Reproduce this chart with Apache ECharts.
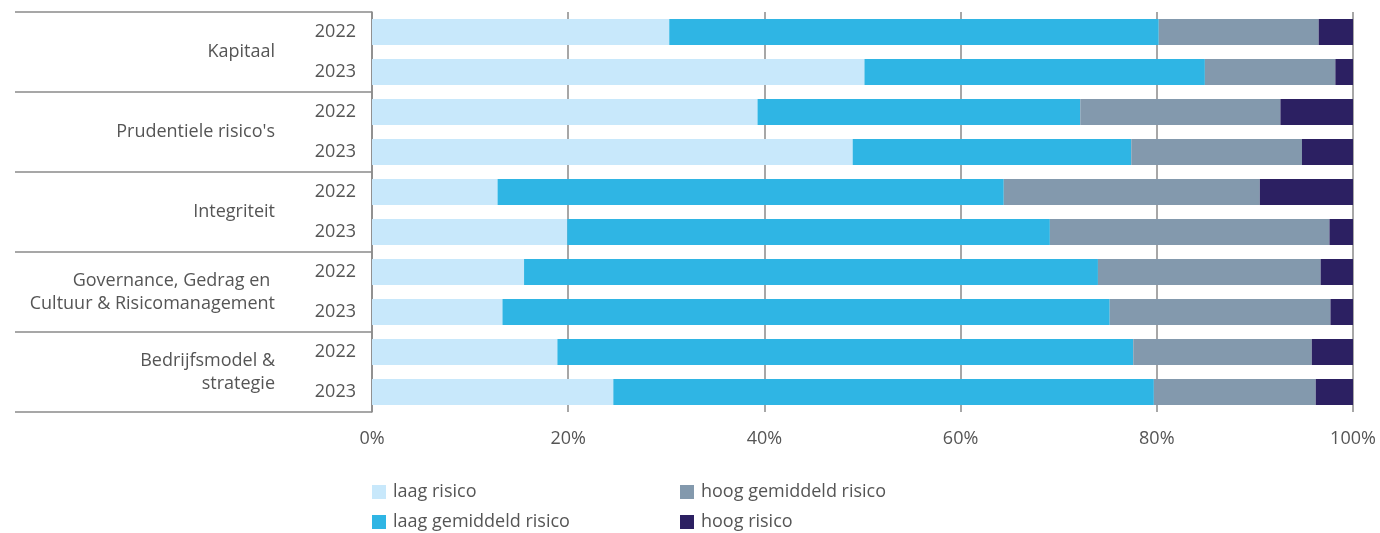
<!DOCTYPE html>
<html>
<head>
<meta charset="utf-8">
<script src="https://cdn.jsdelivr.net/npm/echarts@6/dist/echarts.min.js"></script>
<style>html,body{margin:0;padding:0;background:#fff}#c{width:1380px;height:533px}</style>
</head>
<body>
<div id="c"></div>
<script>
const years = ['2022','2023','2022','2023','2022','2023','2022','2023','2022','2023'];
const groups = ['Kapitaal', "Prudentiele risico's", 'Integriteit', 'Governance, Gedrag en \nCultuur & Risicomanagement', 'Bedrijfsmodel &\nstrategie'];
const xTicks = [0, 20, 40, 60, 80, 100];
const seriesNames = ['laag risico', 'laag gemiddeld risico', 'hoog gemiddeld risico', 'hoog risico'];
const laagRisico          = [30.3, 50.2, 39.3, 49.0, 12.8, 19.9, 15.5, 13.3, 18.9, 24.6];
const laagGemiddeldRisico = [49.9, 34.7, 32.9, 28.4, 51.6, 49.2, 58.5, 61.9, 58.7, 55.1];
const hoogGemiddeldRisico = [16.3, 13.3, 20.4, 17.4, 26.1, 28.5, 22.7, 22.5, 18.2, 16.5];
const hoogRisico          = [3.5, 1.8, 7.4, 5.2, 9.5, 2.4, 3.3, 2.3, 4.2, 3.8];

const colors = ['#c8e8fb', '#2fb5e4', '#8399ad', '#2c2062'];
const dataSets = [laagRisico, laagGemiddeldRisico, hoogGemiddeldRisico, hoogRisico];
const FONT = 'Open Sans';
const TXT = '#555555';
const LINE = '#8a8a8a';
const FS = 18;

const legendBase = {
  orient: 'vertical', top: 483, padding: 0,
  icon: 'rect', itemWidth: 14, itemHeight: 14, itemGap: 12,
  textStyle: { color: TXT, fontSize: FS, lineHeight: 18, fontFamily: FONT, padding: [0, 0, 0, 2] }, selectedMode: false
};

const chart = echarts.init(document.getElementById('c'));
chart.setOption({
  animation: false,
  textStyle: { fontFamily: FONT },
  grid: { left: 372, right: 27, top: 12, bottom: 121, containLabel: false },
  legend: [
    Object.assign({}, legendBase, { data: [seriesNames[0], seriesNames[1]], left: 372 }),
    Object.assign({}, legendBase, { data: [seriesNames[2], seriesNames[3]], left: 680 })
  ],
  xAxis: {
    type: 'value', min: xTicks[0], max: xTicks[xTicks.length - 1], interval: 20,
    axisLine: { show: false }, axisTick: { show: false },
    axisLabel: { formatter: '{value}%', color: TXT, fontSize: FS, margin: 18, fontFamily: FONT },
    splitLine: { show: true, lineStyle: { color: LINE, width: 1.5 } }
  },
  yAxis: [
    {
      type: 'category', data: years, inverse: true, position: 'left',
      axisLine: { show: true, lineStyle: { color: LINE, width: 1.5 } },
      axisTick: { show: false },
      axisLabel: { color: TXT, fontSize: FS, margin: 16, fontFamily: FONT }
    },
    {
      type: 'category', data: groups, inverse: true, position: 'left',
      axisLine: { show: false },
      axisTick: { show: true, length: 357, lineStyle: { color: LINE, width: 1.5 } },
      axisLabel: { color: TXT, fontSize: FS, margin: 97, lineHeight: 23, align: 'right', fontFamily: FONT }
    }
  ],
  series: dataSets.map((d, i) => ({
    name: seriesNames[i], type: 'bar', stack: 'total', yAxisIndex: 0,
    data: d, barWidth: 26, itemStyle: { color: colors[i] }
  }))
});
</script>
</body>
</html>
